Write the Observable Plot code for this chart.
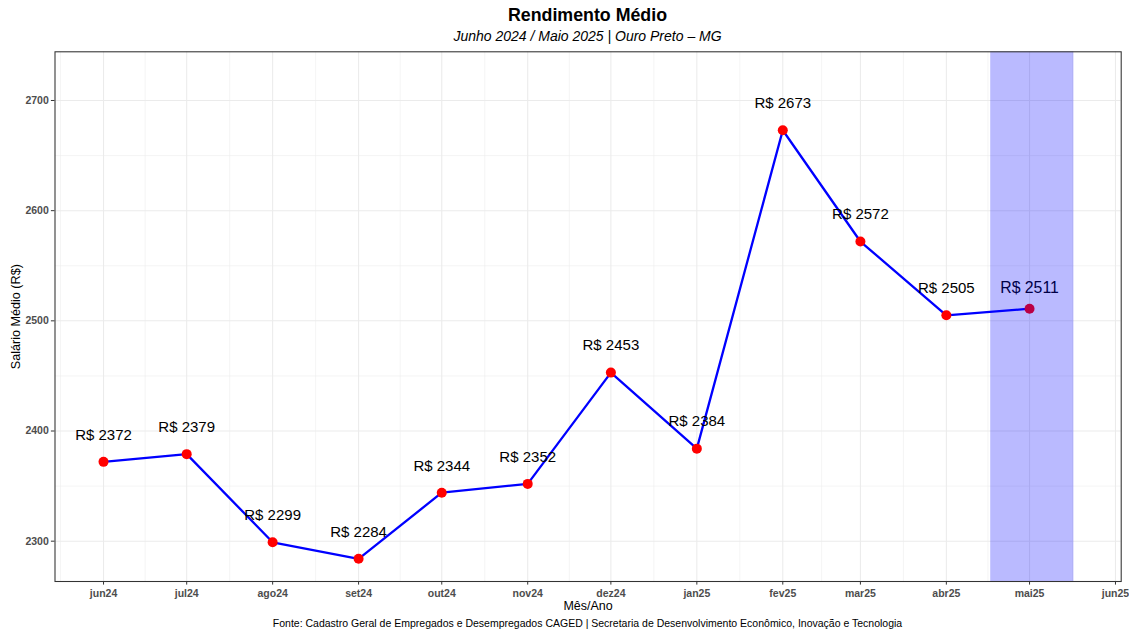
<!DOCTYPE html>
<html>
<head>
<meta charset="utf-8">
<script src="https://cdn.jsdelivr.net/npm/d3@7"></script>
<script src="https://cdn.jsdelivr.net/npm/@observablehq/plot@0.6"></script>
<style>
  body { margin: 0; background: #fff; font-family: "Liberation Sans", Arial, sans-serif; }
  #wrap { width: 1129px; height: 631px; position: relative; overflow: hidden; }
  .t { position: absolute; left: 46px; width: 1083px; text-align: center; white-space: nowrap; color: #000; }
  #title { top: 5px; font-size: 17.8px; line-height: 20px; font-weight: bold; }
  #subtitle { top: 28px; font-size: 14px; line-height: 16px; font-style: italic; }
  #chart { position: absolute; top: 46px; left: 0; }
  #caption { top: 617px; font-size: 10.5px; line-height: 12px; }
</style>
</head>
<body>
<div id="wrap">
  <div id="chart"></div>
  <div class="t" id="title">Rendimento Médio</div>
  <div class="t" id="subtitle">Junho 2024 / Maio 2025 | Ouro Preto – MG</div>
  <div class="t" id="caption">Fonte: Cadastro Geral de Empregados e Desempregados CAGED | Secretaria de Desenvolvimento Econômico, Inovação e Tecnologia</div>
</div>
<script>
// ---- data ----
const months = ["2024-06-01","2024-07-01","2024-08-01","2024-09-01","2024-10-01","2024-11-01","2024-12-01","2025-01-01","2025-02-01","2025-03-01","2025-04-01","2025-05-01"];
const salaries = [2372, 2379, 2299, 2284, 2344, 2352, 2453, 2384, 2673, 2572, 2505, 2511];
const tickMonths = ["2024-05-01","2024-06-01","2024-07-01","2024-08-01","2024-09-01","2024-10-01","2024-11-01","2024-12-01","2025-01-01","2025-02-01","2025-03-01","2025-04-01","2025-05-01","2025-06-01"];
const monthAbbr = ["jan","fev","mar","abr","mai","jun","jul","ago","set","out","nov","dez"];
const yTicks = [2300, 2400, 2500, 2600, 2700];
const highlightStart = "2025-04-17";
const highlightEnd = "2025-05-17";
const xDomain = ["2024-05-14T12:00:00Z", "2025-06-03T01:30:00Z"];
const yDomain = [2263.4, 2744.2];

const parse = s => new Date(s.length === 10 ? s + "T00:00:00Z" : s);
const data = months.map((m, i) => ({date: parse(m), value: salaries[i]}));
const mainData = data.slice(0, -1);
const lastData = data.slice(-1);
const tickDates = tickMonths.map(parse);
const xMajor = tickDates.slice(1);
const xMinor = d3.pairs(tickDates).map(([a, b]) => new Date((+a + +b) / 2));
const yMinor = d3.pairs(yTicks).map(([a, b]) => (a + b) / 2);
const fmt = d => monthAbbr[d.getUTCMonth()] + String(d.getUTCFullYear()).slice(2);
const label = d => "R$ " + d.value;

const chart = Plot.plot({
  width: 1129,
  height: 570,
  marginLeft: 54.5,
  marginRight: 8.3,
  marginTop: 5.3,
  marginBottom: 35,
  style: {fontFamily: '"Liberation Sans", Arial, sans-serif', background: "#fff"},
  x: {type: "utc", domain: xDomain.map(parse)},
  y: {domain: yDomain},
  marks: [
    Plot.ruleX(xMinor, {stroke: "#ebebeb", strokeWidth: 0.55, clip: true}),
    Plot.ruleY(yMinor, {stroke: "#ebebeb", strokeWidth: 0.55, clip: true}),
    Plot.ruleX(xMajor, {stroke: "#ebebeb", strokeWidth: 1.07, clip: true}),
    Plot.ruleY(yTicks, {stroke: "#ebebeb", strokeWidth: 1.07, clip: true}),
    Plot.line(data, {x: "date", y: "value", stroke: "#0000ff", strokeWidth: 2.3}),
    Plot.dot(data, {x: "date", y: "value", r: 5, fill: "#ff0000", stroke: "none"}),
    Plot.text(mainData, {x: "date", y: "value", text: label, dy: -27, fontSize: 15, fill: "#000"}),
    Plot.text(lastData, {x: "date", y: "value", text: label, dy: -21, fontSize: 15.8, fill: "#000"}),
    Plot.rect([{x1: parse(highlightStart), x2: parse(highlightEnd)}], {x1: "x1", x2: "x2", fill: "#0000ff", fillOpacity: 0.27}),
    Plot.frame({stroke: "#333333", strokeWidth: 1.07}),
    Plot.axisX(xMajor, {tickFormat: fmt, tickSize: 3.6, tickPadding: 4, stroke: "#333333", fill: "#4d4d4d", fontSize: 10.5, fontWeight: "bold", label: null}),
    Plot.axisY(yTicks, {tickFormat: d => String(d), tickSize: 3.6, tickPadding: 2.6, stroke: "#333333", fill: "#4d4d4d", fontSize: 10.5, fontWeight: "bold", label: null}),
    Plot.text(["Mês/Ano"], {frameAnchor: "bottom", lineAnchor: "middle", dy: 24.8, fontSize: 12.5, fill: "#000"}),
    Plot.text(["Salário Médio (R$)"], {frameAnchor: "left", textAnchor: "middle", lineAnchor: "middle", dx: -39.5, rotate: -90, fontSize: 12.6, fill: "#000"})
  ]
});
document.getElementById("chart").appendChild(chart);
</script>
</body>
</html>
